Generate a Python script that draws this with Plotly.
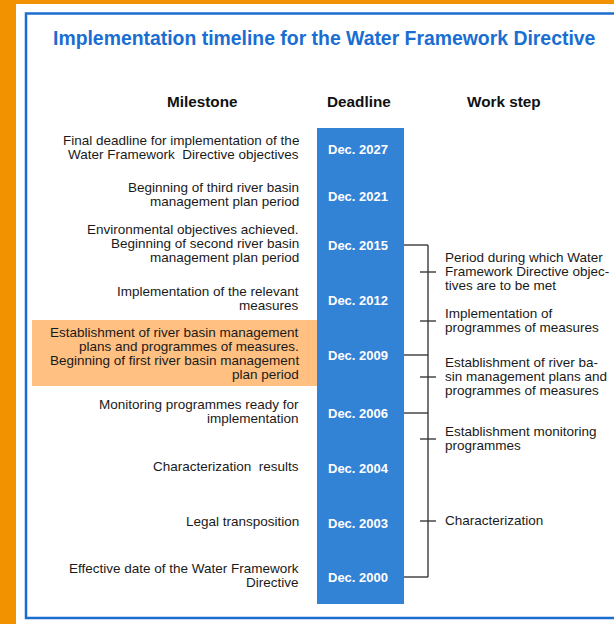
import plotly.graph_objects as go

# ---------------- data ----------------
title_text = "Implementation timeline for the Water Framework Directive"
column_headers = ["Milestone", "Deadline", "Work step"]

deadlines = ["Dec. 2027", "Dec. 2021", "Dec. 2015", "Dec. 2012", "Dec. 2009",
             "Dec. 2006", "Dec. 2004", "Dec. 2003", "Dec. 2000"]

milestones = [
    ["Final deadline for implementation of the", "Water Framework  Directive objectives"],
    ["Beginning of third river basin", "management plan period"],
    ["Environmental objectives achieved.", "Beginning of second river basin", "management plan period"],
    ["Implementation of the relevant", "measures"],
    ["Establishment of river basin management", "plans and programmes of measures.",
     "Beginning of first river basin management", "plan period"],
    ["Monitoring programmes ready for", "implementation"],
    ["Characterization  results"],
    ["Legal transposition"],
    ["Effective date of the Water Framework", "Directive"],
]
highlighted_deadline = "Dec. 2009"

work_steps = [
    ["Period during which Water", "Framework Directive objec-", "tives are to be met"],
    ["Implementation of", "programmes of measures"],
    ["Establishment of river ba-", "sin management plans and", "programmes of measures"],
    ["Establishment monitoring", "programmes"],
    ["Characterization"],
]
bracket_deadlines = ["Dec. 2015", "Dec. 2009", "Dec. 2006", "Dec. 2000"]

# ---------------- layout (positions in pixel scale of the axes) ----------------
W, H = 614, 624
row_y = [149, 196, 245, 300, 355, 413, 468, 523, 577]
ws_y = [272, 321, 377, 439, 521]
LINE_H = 14

BAR_X0, BAR_X1 = 317, 404
MILESTONE_X = 301
DATE_X = 325.5
BRACKET_X = 428
TICK_HALF = 8
WS_X = 443

ORANGE = "#F39200"
BORDER_BLUE = "#1C6DD0"
BAR_BLUE = "#3282D6"
HILITE = "#FFC082"
TXT = "#1a1a1a"
LINE_COL = "#3a3a3a"
FONT = "Liberation Sans, Arial, sans-serif"
BODY_SIZE = 13.5

fig = go.Figure()
shapes = []
annotations = []

# orange frame strips
shapes.append(dict(type="rect", x0=0, x1=16, y0=0, y1=H, fillcolor=ORANGE, line_width=0, layer="below"))
shapes.append(dict(type="rect", x0=16, x1=W, y0=0, y1=4, fillcolor=ORANGE, line_width=0, layer="below"))
# blue inner border
shapes.append(dict(type="rect", x0=26, x1=W + 20, y0=13.5, y1=618, fillcolor="rgba(0,0,0,0)",
                   line=dict(color=BORDER_BLUE, width=2.5), layer="below"))

# highlight box
hi = deadlines.index(highlighted_deadline)
shapes.append(dict(type="rect", x0=32, x1=BAR_X0, y0=row_y[hi] - 35, y1=row_y[hi] + 31,
                   fillcolor=HILITE, line_width=0, layer="below"))

# deadline bar
shapes.append(dict(type="rect", x0=BAR_X0, x1=BAR_X1, y0=row_y[0] - 21, y1=row_y[-1] + 27,
                   fillcolor=BAR_BLUE, line_width=0, layer="below"))

# bracket lines
bx, by = [], []
conn_y = [row_y[deadlines.index(d)] for d in bracket_deadlines]
for y in conn_y:
    bx += [BAR_X1, BRACKET_X, None]
    by += [y, y, None]
bx += [BRACKET_X, BRACKET_X, None]
by += [min(conn_y), max(conn_y), None]
for y in ws_y:
    bx += [BRACKET_X - TICK_HALF, BRACKET_X + TICK_HALF, None]
    by += [y, y, None]
fig.add_trace(go.Scatter(x=bx, y=by, mode="lines", line=dict(color=LINE_COL, width=1.4),
                         hoverinfo="skip", showlegend=False))

# title
annotations.append(dict(x=324, y=38, text="<b>" + title_text + "</b>", showarrow=False,
                        xanchor="center", yanchor="middle",
                        font=dict(family=FONT, size=19.4, color="#1A6ED2")))
# column headers
for hx, h in zip([202, 359, 504], column_headers):
    annotations.append(dict(x=hx, y=101, text="<b>" + h + "</b>", showarrow=False,
                            xanchor="center", yanchor="middle",
                            font=dict(family=FONT, size=15.3, color="#111111")))

# deadline labels
for y, d in zip(row_y, deadlines):
    annotations.append(dict(x=DATE_X, y=y, text="<b>" + d + "</b>", showarrow=False,
                            xanchor="left", yanchor="middle",
                            font=dict(family=FONT, size=13, color="white")))

# milestone texts (right aligned, one annotation per line)
for y, lines in zip(row_y, milestones):
    n = len(lines)
    cy = y - 2
    for k, ln in enumerate(lines):
        ly = cy + (k - (n - 1) / 2) * LINE_H
        annotations.append(dict(x=MILESTONE_X, y=ly, text=ln, showarrow=False,
                                xanchor="right", yanchor="middle",
                                font=dict(family=FONT, size=BODY_SIZE, color=TXT)))

# work step texts (left aligned)
for y, lines in zip(ws_y, work_steps):
    n = len(lines)
    cy = y - 1
    for k, ln in enumerate(lines):
        ly = cy + (k - (n - 1) / 2) * LINE_H
        annotations.append(dict(x=WS_X, y=ly, text=ln, showarrow=False,
                                xanchor="left", yanchor="middle",
                                font=dict(family=FONT, size=BODY_SIZE, color=TXT)))

fig.update_layout(
    width=W, height=H,
    margin=dict(l=0, r=0, t=0, b=0),
    paper_bgcolor="white", plot_bgcolor="white",
    xaxis=dict(range=[0, W], visible=False, fixedrange=True),
    yaxis=dict(range=[H, 0], visible=False, fixedrange=True),
    shapes=shapes, annotations=annotations, showlegend=False,
)

fig.write_html("out.html", config={"displayModeBar": False},
               post_script="document.body.style.margin='0';document.body.style.overflow='hidden';")
